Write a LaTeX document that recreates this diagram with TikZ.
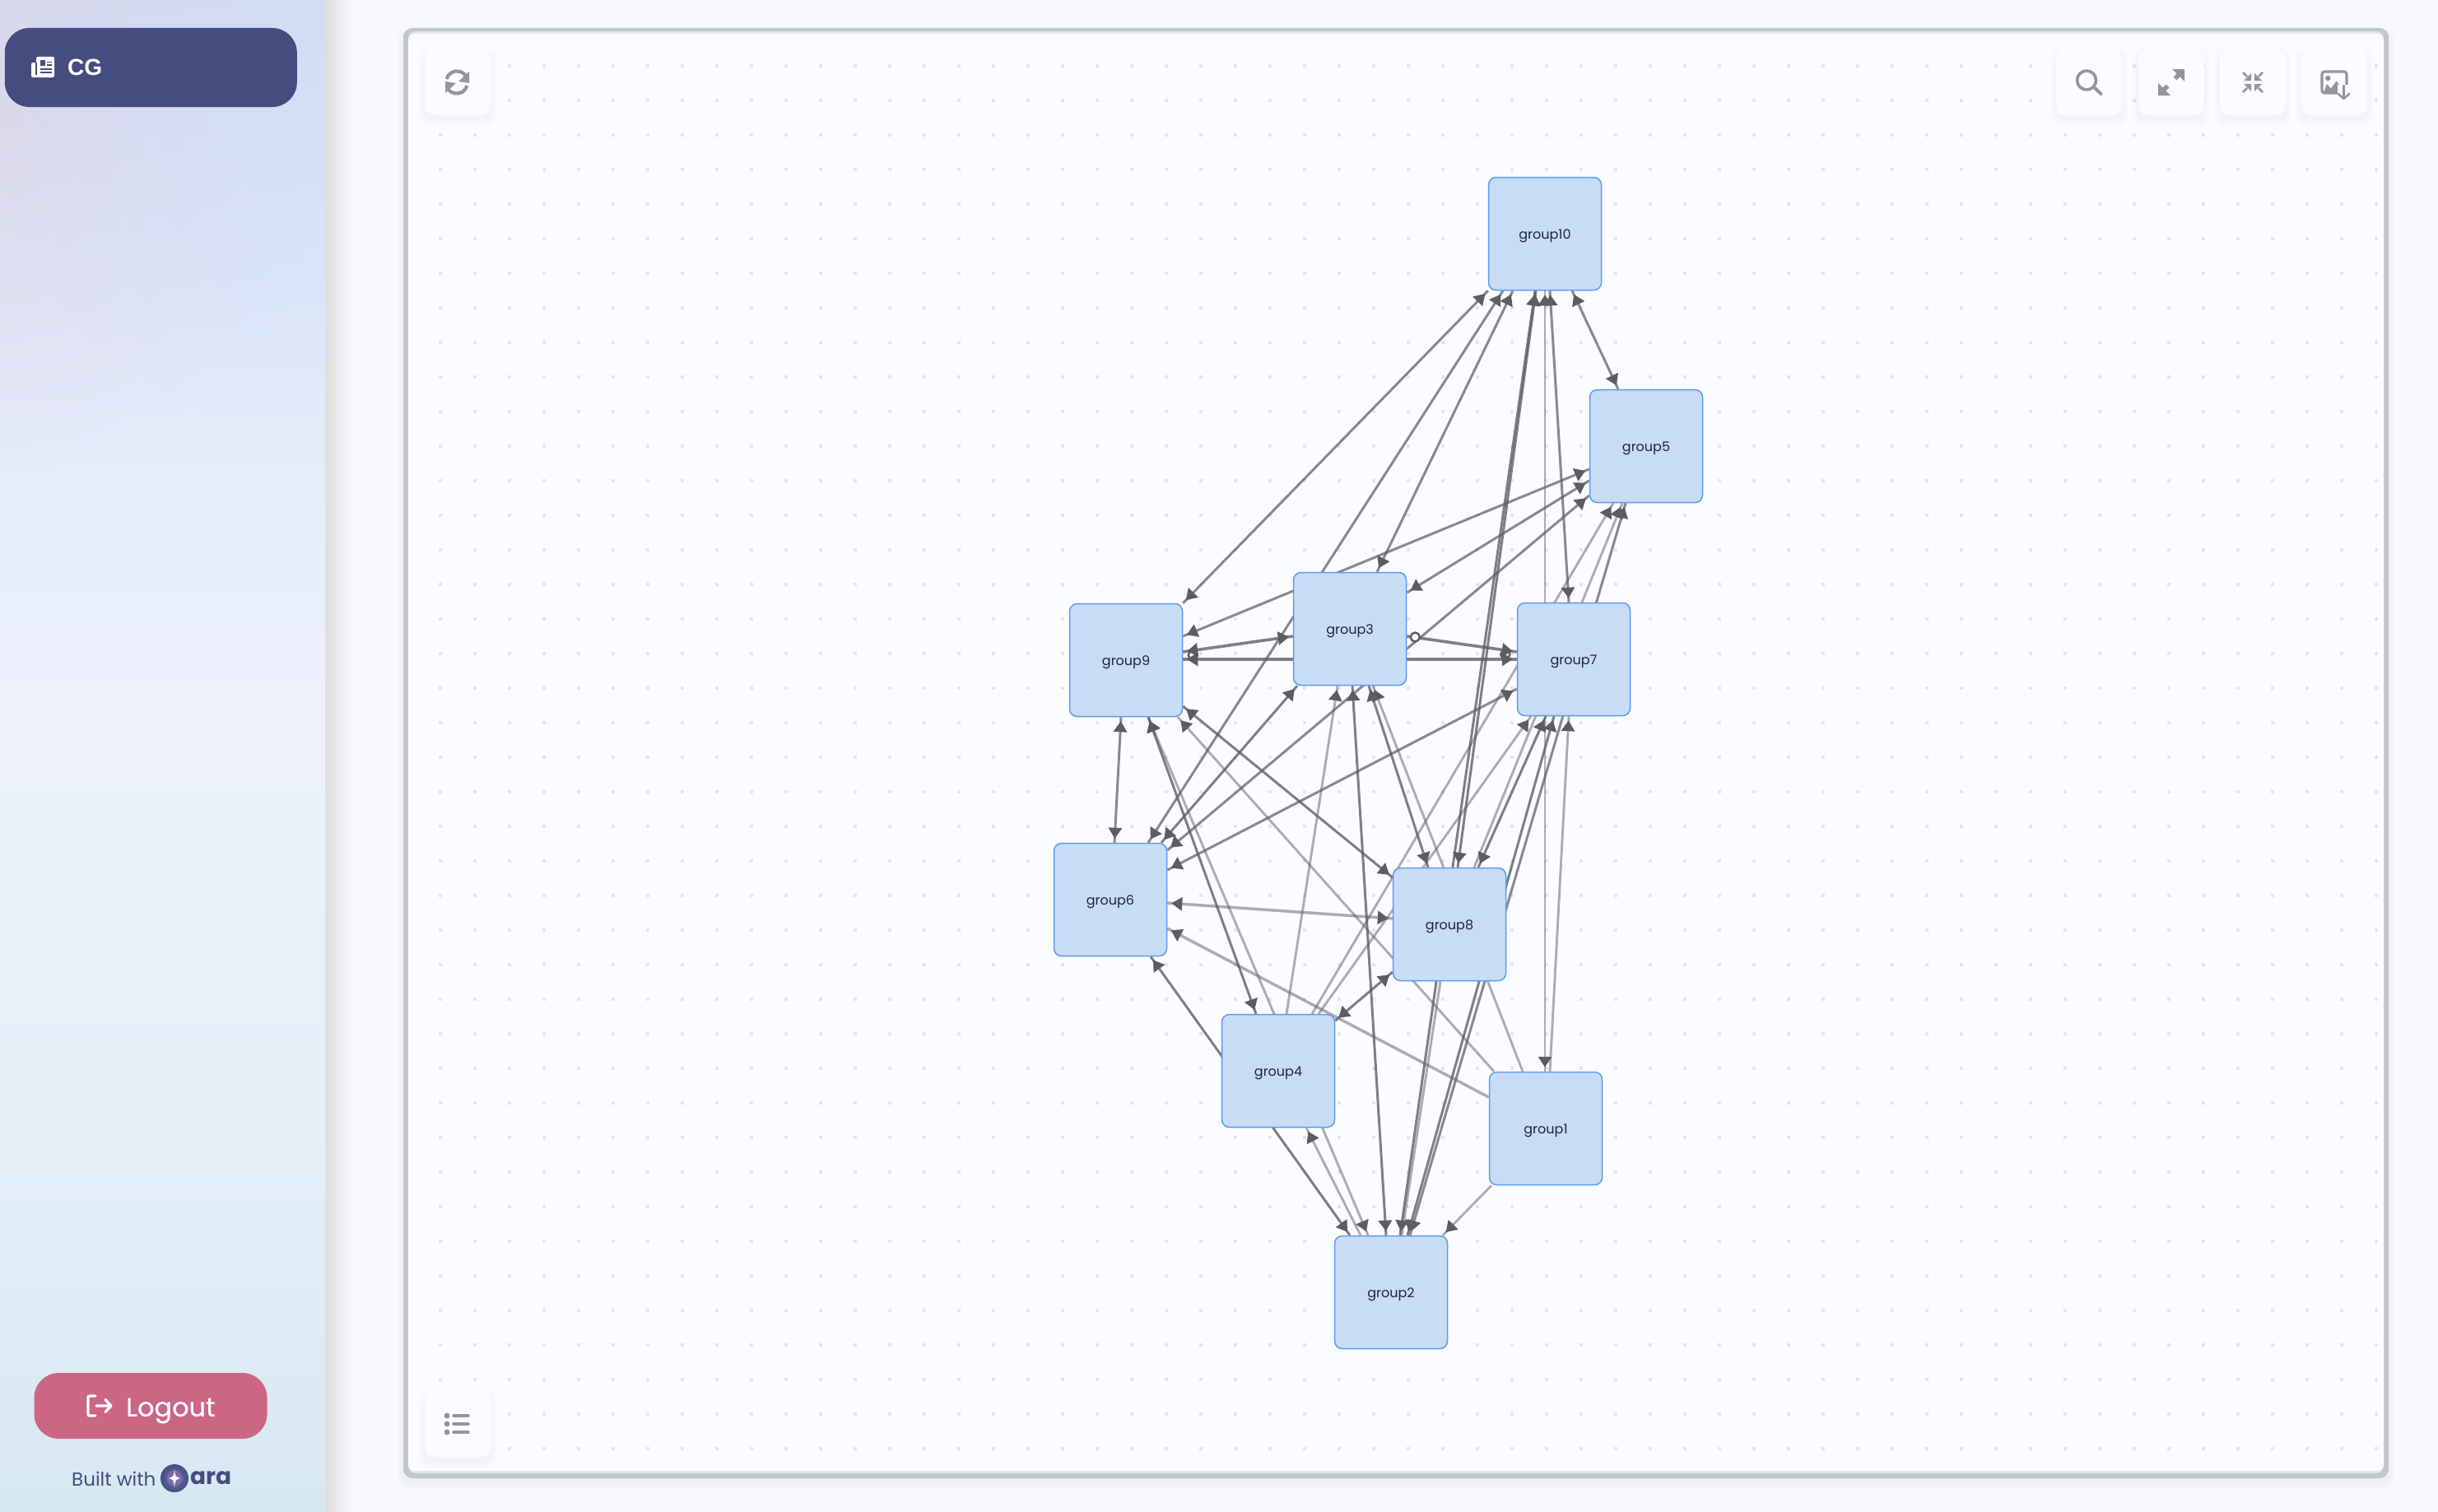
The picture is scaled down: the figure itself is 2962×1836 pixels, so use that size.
\documentclass[tikz,border=0pt]{standalone}
\usepackage{fontspec}
\setmainfont{Poppins}
\newfontfamily\cgfont{Liberation Sans}
\newfontfamily\boldishfont[FakeBold=0.3]{Poppins}
\usetikzlibrary{arrows.meta,decorations.markings,fadings}
\pgfdeclarelayer{base}
\pgfdeclarelayer{edges}
\pgfsetlayers{base,edges,main}
\definecolor{pagebg}{HTML}{F8F9FD}
\definecolor{panelbg}{HTML}{FBFCFF}
\definecolor{panelline}{HTML}{C4C6CE}
\definecolor{panelin}{HTML}{E2E4EA}
\definecolor{griddot}{HTML}{E3E4EE}
\definecolor{nodefill}{HTML}{C8DCF6}
\definecolor{nodeline}{HTML}{5A9BEF}
\definecolor{nodetext}{HTML}{1C2340}
\definecolor{edgec}{HTML}{5B5D62}
\definecolor{iconc}{HTML}{94959C}
\definecolor{navy}{HTML}{454C80}
\definecolor{rose}{HTML}{CB6685}
\definecolor{sideA}{HTML}{D6DCF2}
\definecolor{sideB}{HTML}{DFE7FA}
\definecolor{sideC}{HTML}{EDF1FC}
\definecolor{sideD}{HTML}{E6F0F9}
\definecolor{sideE}{HTML}{D6E8F2}
\definecolor{sidePurple}{HTML}{DDD2E4}
\definecolor{sideBlue}{HTML}{CCDFF9}
\definecolor{logoIn}{HTML}{6A78B0}
\definecolor{logoCore}{HTML}{7C6AA8}
\tikzfading[name=softblob,inner color=transparent!45,outer color=transparent!100]
\newcommand{\softbox}[4]{%
  \foreach \i in {1,...,8}{%
    \fill[black,opacity=.005,rounded corners=12pt]
      (#1-\i,#2-\i+6) rectangle (#3+\i,#4+\i+6);}}
\tikzset{
  x=1pt,y=-1pt,
  grp/.style={draw=nodeline,fill=nodefill,line width=1.5pt,rounded corners=9pt,
    minimum width=137pt,minimum height=137pt,inner sep=0pt,text=nodetext,
    text height=13pt,text depth=0pt,font=\fontsize{16}{18}\selectfont},
  ctl/.style={fill=panelbg,rounded corners=12pt,minimum size=80pt,inner sep=0pt},
  dk/.style={draw=edgec,line width=3pt,draw opacity=.78},
  md/.style={draw=edgec,line width=3pt,draw opacity=.72},
  lt/.style={draw=edgec,line width=2.9pt,draw opacity=.5},
  dkthick/.style={draw=edgec,line width=3.6pt,draw opacity=.78},
  ltthick/.style={draw=edgec,line width=3.5pt,draw opacity=.5},
  end head/.style={postaction={decorate,decoration={markings,
    mark=at position -5pt with {\pgfsetstrokeopacity{1}\pgfsetfillopacity{1}\arrow{Triangle[length=13pt,width=16pt]}}}}},
  start head/.style={postaction={decorate,decoration={markings,
    mark=at position 5pt with {\pgfsetstrokeopacity{1}\pgfsetfillopacity{1}\arrowreversed{Triangle[length=13pt,width=16pt]}}}}},
  both heads/.style={postaction={decorate,decoration={markings,
    mark=at position 5pt with {\pgfsetstrokeopacity{1}\pgfsetfillopacity{1}\arrowreversed{Triangle[length=13pt,width=16pt]}},
    mark=at position -5pt with {\pgfsetstrokeopacity{1}\pgfsetfillopacity{1}\arrow{Triangle[length=13pt,width=16pt]}}}}},
  ringmark/.style={draw=edgec,fill=panelbg,line width=2.4pt},
  icon/.style={draw=iconc,line width=3.6pt,line cap=round,line join=round},
  iconfill/.style={fill=iconc},
}
\begin{document}
\begin{tikzpicture}
\useasboundingbox (0,0) rectangle (2962,1836);

% ---------- page, sidebar, panel ----------
\begin{pgfonlayer}{base}
\fill[pagebg] (0,0) rectangle (2962,1836);
\shade[left color=black!13,right color=pagebg] (395,0) rectangle (428,1836);
\shade[top color=sideA,bottom color=sideB] (0,0) rectangle (395,320);
\shade[top color=sideB,bottom color=sideC] (0,320) rectangle (395,850);
\shade[top color=sideC,bottom color=sideD] (0,850) rectangle (395,1350);
\shade[top color=sideD,bottom color=sideE] (0,1350) rectangle (395,1836);
\begin{scope}
  \clip (0,0) rectangle (395,1836);
  \fill[sidePurple,path fading=softblob] (0,170) circle (400);
  \fill[sideBlue,path fading=softblob] (395,130) circle (400);
\end{scope}
% panel
\softbox{490}{34}{2902}{1796}
\fill[panelline,rounded corners=11pt] (490,34) rectangle (2902,1796);
\fill[panelin,rounded corners=9pt] (496,38) rectangle (2896,1790);
\fill[panelbg,rounded corners=8pt] (496,41) rectangle (2896,1787);
\foreach \gx in {0,...,56}{\foreach \gy in {0,...,40}{%
  \fill[griddot] (533+42*\gx,78+42*\gy) rectangle +(4,4);}}
% button shadows
\softbox{516}{60}{596}{140}
\softbox{2498}{60}{2578}{140}
\softbox{2598}{60}{2678}{140}
\softbox{2697}{60}{2777}{140}
\softbox{2796}{60}{2876}{140}
\softbox{516}{1690}{596}{1770}
\end{pgfonlayer}

% ---------- control buttons ----------
\node[ctl] (btnRefresh) at (556,100) {};
\node[ctl] (btnSearch) at (2538,100) {};
\node[ctl] (btnExpand) at (2638,100) {};
\node[ctl] (btnCompress) at (2737,100) {};
\node[ctl] (btnImage) at (2836,100) {};
\node[ctl] (btnList) at (556,1730) {};

% refresh icon
\draw[icon,line width=4.2pt,line cap=butt] (542.5,96) arc[start angle=195,end angle=335,radius=13];
\draw[icon,line width=4.2pt,line cap=butt] (567.5,104) arc[start angle=15,end angle=155,radius=13];
\fill[iconfill] (570,87) -- (570,101) -- (557,99) -- cycle;
\fill[iconfill] (541,113) -- (541,99) -- (554,101) -- cycle;
% search icon
\draw[icon] (2535,97.5) circle (11.5);
\draw[icon,line width=4pt] (2544,106) -- (2552.5,114);
% expand icon
\draw[icon,line width=5.5pt,line cap=butt] (2642.5,95.5) -- (2650,88);
\draw[icon,line width=5.5pt,line cap=butt] (2633.5,104.5) -- (2626,112);
\fill[iconfill] (2654,84) -- (2639,84) -- (2654,99) -- cycle;
\fill[iconfill] (2622,116) -- (2637,116) -- (2622,101) -- cycle;
% compress icon
\foreach \sx/\sy in {-1/-1,1/-1,-1/1,1/1}{%
  \fill[iconfill] (2737+2*\sx,100+2*\sy) -- (2737+2*\sx,100+11*\sy) -- (2737+11*\sx,100+2*\sy) -- cycle;
  \draw[icon,line width=2.6pt,line cap=butt] (2737+7*\sx,100+7*\sy) -- (2737+12*\sx,100+12*\sy);}
% image-download icon
\draw[icon,line width=3.2pt,rounded corners=3pt] (2821,87) rectangle (2851,113);
\fill[iconfill] (2828.3,95) circle (3.3);
\fill[iconfill] (2823,113) -- (2826.8,102) -- (2832,107.5) -- (2838.5,98.5) -- (2847,110) -- (2846,113) -- cycle;
\fill[panelbg] (2840,103) rectangle (2856,122);
\draw[icon,line width=2.4pt] (2847.3,104) -- (2847.3,120);
\draw[icon,line width=2.4pt] (2840.7,114) -- (2847.3,120) -- (2854.3,114);
% list icon
\foreach \ly in {1720,1730,1740}{%
  \fill[iconfill,rounded corners=1.5pt] (540,\ly-3.2) rectangle (546,\ly+3.2);
  \draw[icon,line width=3.4pt] (551,\ly) -- (569,\ly);}

% ---------- sidebar content ----------
\node[fill=navy,rounded corners=30pt,minimum width=355pt,minimum height=96pt,inner sep=0pt] (navCG) at (183.3,82) {};
\node[anchor=west,text=white,inner sep=0pt,font=\cgfont\bfseries\fontsize{28}{30}\selectfont] (labelCG) at (82,82) {CG};
\fill[white,rounded corners=2pt] (44,69) rectangle (66,94);
\fill[white,rounded corners=2pt] (38,76) rectangle (46,94);
\fill[navy] (42.5,76) rectangle (44.5,90.5);
\fill[navy] (48.5,73) rectangle (55,80);
\fill[navy] (57,74.5) rectangle (62.5,76);
\fill[navy] (57,78) rectangle (62.5,79.5);
\fill[navy] (48.5,83) rectangle (62.5,84.5);
\fill[navy] (48.5,87) rectangle (62.5,88.5);

\node[fill=rose,rounded corners=30pt,minimum width=283pt,minimum height=80pt,inner sep=0pt] (btnLogout) at (183,1708) {};
\node[anchor=west,text=white,inner sep=0pt,font=\boldishfont\fontsize{32}{36}\selectfont] (labelLogout) at (153,1714) {Logout};
\draw[white,line width=3.4pt,line cap=round,rounded corners=2pt] (116,1696) -- (107,1696) -- (107,1720) -- (116,1720);
\draw[white,line width=3.4pt,line cap=round,line join=round] (117,1708) -- (135,1708) (128,1700.5) -- (135,1708) -- (128,1715.5);

\node[anchor=west,text=navy,inner sep=0pt,font=\fontsize{23}{26}\selectfont] (labelBuilt) at (87,1797) {Built with};
\shade[outer color=navy,inner color=logoIn] (212,1796) circle (17);
\fill[logoCore] (212,1796) circle (9.5);
\fill[white] (212,1785) .. controls (213,1794) .. (219,1796) .. controls (213,1798) .. (212,1807) .. controls (211,1798) .. (205,1796) .. controls (211,1794) .. (212,1785) -- cycle;
\node[anchor=west,text=navy,inner sep=0pt,font=\bfseries\fontsize{28}{30}\selectfont] (labelAra) at (231,1796) {ara};

% ---------- graph nodes ----------
\node[grp] (g10) at (1877,284) {group10};
\node[grp] (g5) at (2000,542) {group5};
\node[grp] (g3) at (1640,764) {group3};
\node[grp] (g7) at (1912,801) {group7};
\node[grp] (g9) at (1368,802) {group9};
\node[grp] (g6) at (1349,1093) {group6};
\node[grp] (g8) at (1761,1123) {group8};
\node[grp] (g4) at (1553,1301) {group4};
\node[grp] (g1) at (1878,1371) {group1};
\node[grp] (g2) at (1690,1570) {group2};

% ---------- edges ----------
\begin{pgfonlayer}{edges}
\draw[ringmark] ([xshift=12pt,yshift=6pt]g9.east) circle (5.5);
\draw[ringmark] ([xshift=-14pt,yshift=6pt]g7.west) circle (5.5);

\draw[md,both heads] (g9.north east) -- (g10.south west);
\draw[md,both heads] ([xshift=46pt]g6.north) -- ([xshift=-51pt]g10.south);
\draw[md,both heads] ([xshift=33pt]g3.north) -- ([xshift=-39pt]g10.south);
\draw[dk,both heads] ([xshift=11pt]g2.north) -- ([xshift=-12pt]g10.south);
\draw[dk,both heads] ([xshift=10pt]g8.north) -- ([xshift=-11pt]g10.south);
\draw[lt,both heads] ([xshift=-1pt]g1.north) -- (g10.south);
\draw[md,both heads] ([xshift=-6pt]g7.north) -- ([xshift=6pt]g10.south);
\draw[md,both heads] ([xshift=-34pt]g5.north) -- ([xshift=33pt]g10.south);
\draw[md,both heads] ([yshift=29pt]g9.east) -- ([yshift=-28pt]g5.west);
\draw[md,both heads] ([yshift=44pt]g3.east) -- ([yshift=-42pt]g5.west);
\draw[md,both heads] ([yshift=60pt]g6.east) -- ([yshift=-60pt]g5.west);
\draw[lt,end head] ([xshift=41pt]g4.north) -- ([xshift=-40pt]g5.south);
\draw[lt,end head] ([xshift=30pt]g8.north) -- ([xshift=-29pt]g5.south);
\draw[md,both heads] ([xshift=23pt]g2.north) -- ([xshift=-25pt]g5.south);
\draw[dk,both heads] ([xshift=20pt]g2.north) -- ([xshift=-24pt]g7.south);
\draw[dk,both heads] ([xshift=35pt]g8.north) -- ([xshift=-34pt]g7.south);
\draw[lt,end head] ([xshift=49pt]g4.north) -- ([xshift=-52pt]g7.south);
\draw[lt,end head] ([xshift=5pt]g1.north) -- ([xshift=-6pt]g7.south);
\draw[dkthick,both heads] ([yshift=1pt]g9.east) -- (g7.west);
\draw[dkthick,both heads] ([yshift=10pt]g9.east) -- ([yshift=-9pt]g3.west);
\draw[dkthick,end head] ([yshift=-9pt]g3.east) -- ([yshift=9pt]g7.west);
\draw[dk,both heads] ([xshift=-64pt]g3.south) -- ([xshift=62pt]g6.north);
\draw[md,both heads] ([yshift=-36pt]g7.west) -- ([yshift=36pt]g6.east);
\draw[lt,end head] ([xshift=10pt]g4.north) -- ([xshift=-15pt]g3.south);
\draw[dk,both heads] ([xshift=3pt]g3.south) -- ([xshift=-6pt]g2.north);
\draw[dk,both heads] ([xshift=23pt]g3.south) -- ([xshift=-26pt]g8.north);
\draw[lt,end head] ([xshift=-28pt]g1.north) -- ([xshift=28pt]g3.south);
\draw[md,both heads] ([xshift=-6pt]g9.south) -- ([xshift=5pt]g6.north);
\draw[dk,both heads] ([xshift=27pt]g9.south) -- ([xshift=-27pt]g4.north);
\draw[lt,both heads] ([xshift=27pt]g9.south) -- ([xshift=-28pt]g2.north);
\draw[dk,both heads] ([yshift=-56pt]g9.east) -- ([yshift=57pt]g8.west);
\draw[lt,end head] ([xshift=-63pt]g1.north) -- ([xshift=63pt]g9.south);
\draw[ltthick,both heads] ([yshift=-4pt]g6.east) -- ([yshift=7pt]g8.west);
\draw[ltthick,end head] ([yshift=38pt]g1.west) -- ([yshift=-35pt]g6.east);
\draw[dk,both heads] ([xshift=49pt]g6.south) -- ([xshift=-50pt]g2.north);
\draw[dk,both heads] ([yshift=-58pt]g8.west) -- ([yshift=61pt]g4.east);
\draw[lt,end head] ([xshift=-37pt]g2.north) -- ([xshift=34pt]g4.south);
\draw[lt] ([xshift=-11pt]g8.south) -- ([xshift=13pt]g2.north);
\draw[lt,end head] ([xshift=-66pt]g1.south) -- ([xshift=63pt]g2.north);
\draw[ringmark] ([xshift=10pt,yshift=-10pt]g3.east) circle (5.5);
\end{pgfonlayer}
\end{tikzpicture}
\end{document}
